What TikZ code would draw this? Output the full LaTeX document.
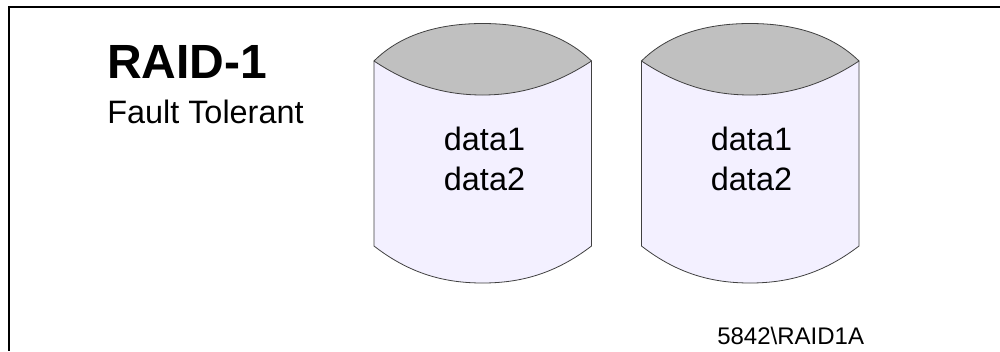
\documentclass[tikz,border=0pt]{standalone}
\usepackage{fontspec}
\setmainfont{Liberation Sans}
\definecolor{diskbody}{HTML}{F3F0FF}
\definecolor{disktop}{HTML}{C0C0C0}
\definecolor{diskline}{HTML}{404040}
\tikzset{
  x=0.75pt,y=-0.75pt,
  frameline/.style={draw=black,line width=1.1pt},
  diskbodyshape/.style={draw=diskline,fill=diskbody,line width=0.6pt,line join=round},
  disktopshape/.style={draw=diskline,fill=disktop,line width=0.6pt,line join=round},
  label/.style={inner sep=0pt,anchor=base,font=\fontsize{24.3pt}{30pt}\selectfont},
  disklabel/.style={label,align=center,anchor=center,font=\fontsize{24.3pt}{30pt}\selectfont}
}
\newcommand{\diskat}[1]{%
  \begin{scope}[xshift=#1*0.75pt]
    \path[diskbodyshape] (374,61) -- (374,246) .. controls (410,274) and (445,283) .. (482.5,283)
      .. controls (520,283) and (555,274) .. (591.5,246) -- (591.5,61) -- cycle;
    \path[disktopshape] (374,61) .. controls (402,33) and (442,23.5) .. (482.5,23.5)
      .. controls (523,23.5) and (563,33) .. (591.5,61)
      .. controls (555,85) and (520,95) .. (482.5,95)
      .. controls (445,95) and (410,85) .. (374,61) -- cycle;
  \end{scope}}
\begin{document}
\begin{tikzpicture}
\useasboundingbox (0,0) rectangle (1000,351);
\coordinate (corner) at (9,7);
\coordinate (topend) at (1000,7);
\coordinate (leftend) at (9,351);
\draw[frameline] (topend) -- (corner) -- (leftend);
\diskat{0}
\diskat{267.5}
\node[label,anchor=base west,font=\bfseries\fontsize{36pt}{40pt}\selectfont] (title) at (107,78) {RAID-1};
\node[label,anchor=base west] (sub) at (107,123) {Fault Tolerant};
\node[disklabel] (d1) at (484.5,159) {data1\\data2};
\node[disklabel] (d2) at (751.5,159) {data1\\data2};
\node[label,anchor=base west,font=\fontsize{18pt}{20pt}\selectfont] (ref) at (717,344) {5842\textbackslash RAID1A};
\end{tikzpicture}
\end{document}
